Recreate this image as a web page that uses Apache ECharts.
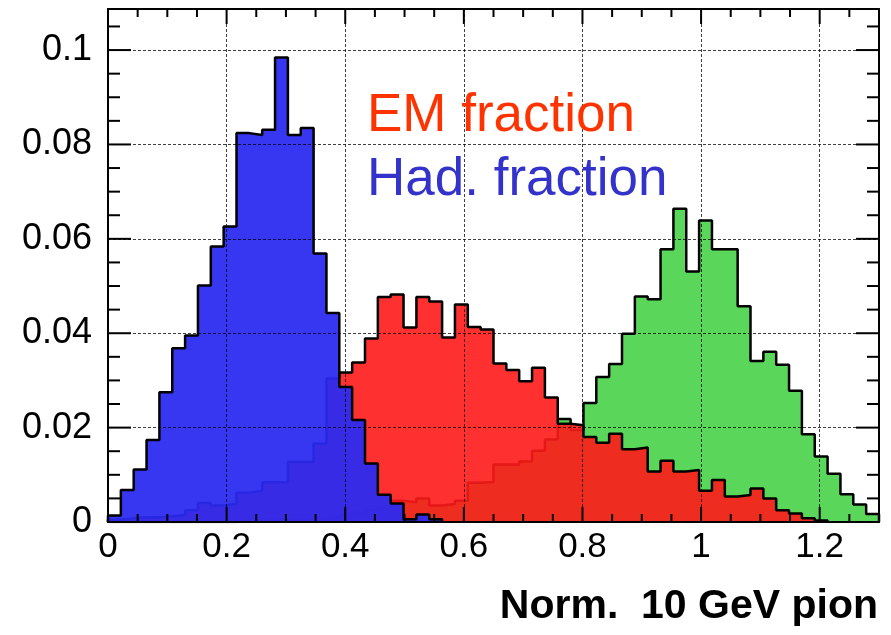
<!DOCTYPE html>
<html>
<head>
<meta charset="utf-8">
<script src="https://cdn.jsdelivr.net/npm/echarts@6/dist/echarts.min.js"></script>
<style>
  html, body { margin: 0; padding: 0; background: #fff; }
  #chart { width: 891px; height: 635px; }
</style>
</head>
<body>
<div id="chart"></div>
<script>
// ---- data: 60 bins from 0 to 1.3 ----
const X_MIN = 0;
const X_MAX = 1.3;
const xTickLabels = ['0', '0.2', '0.4', '0.6', '0.8', '1', '1.2'];
const yTickLabels = ['0', '0.02', '0.04', '0.06', '0.08', '0.1'];

// tick positions (axis values)
const xMajorTicks = [0, 0.2, 0.4, 0.6, 0.8, 1.0, 1.2];
const xMinorTicks = [0.05, 0.1, 0.15, 0.25, 0.3, 0.35, 0.45, 0.5, 0.55, 0.65, 0.7, 0.75,
                     0.85, 0.9, 0.95, 1.05, 1.1, 1.15, 1.25];
const yMajorTicks = [0, 0.02, 0.04, 0.06, 0.08, 0.1];
const yMinorTicks = [0.005, 0.01, 0.015, 0.025, 0.03, 0.035, 0.045, 0.05, 0.055, 0.065, 0.07,
                     0.075, 0.085, 0.09, 0.095, 0.105];

// Had. fraction (blue)
const hadFraction = [
  0.0014, 0.0068, 0.0111, 0.0174, 0.0275, 0.0368, 0.0395, 0.0501, 0.0584, 0.0626,
  0.0824, 0.0820, 0.0831, 0.0984, 0.0820, 0.0835, 0.0569, 0.0443, 0.0286, 0.0216,
  0.0124, 0.0058, 0.0039, 0.0006, 0.0016, 0.0006, 0, 0, 0, 0,
  0, 0, 0, 0, 0, 0, 0, 0, 0, 0,
  0, 0, 0, 0, 0, 0, 0, 0, 0, 0,
  0, 0, 0, 0, 0, 0, 0, 0, 0, 0
];

// EM fraction (red)
const emFraction = [
  0.0005, 0.0008, 0.0010, 0.0010, 0.0012, 0.0015, 0.0025, 0.0040, 0.0035, 0.0038,
  0.0062, 0.0066, 0.0084, 0.0084, 0.0127, 0.0127, 0.0166, 0.0304, 0.0317, 0.0338,
  0.0389, 0.0477, 0.0482, 0.0412, 0.0477, 0.0467, 0.0391, 0.0461, 0.0413, 0.0408,
  0.0336, 0.0322, 0.0298, 0.0327, 0.0264, 0.0208, 0.0205, 0.0180, 0.0168, 0.0187,
  0.0154, 0.0158, 0.0107, 0.0130, 0.0107, 0.0110, 0.0066, 0.0089, 0.0054, 0.0057,
  0.0071, 0.0050, 0.0025, 0.0018, 0.0008, 0.0003, 0, 0, 0, 0
];

// Normalised total, 10 GeV pion (green)
const totalNorm = [
  0, 0, 0, 0, 0, 0, 0, 0, 0, 0,
  0.0002, 0.0003, 0.0003, 0.0004, 0.0004, 0.0005, 0.0008, 0.0010, 0.0015, 0.0020,
  0.0025, 0.0030, 0.0045, 0.0042, 0.0050, 0.0035, 0.0038, 0.0045, 0.0083, 0.0085,
  0.0122, 0.0122, 0.0128, 0.0151, 0.0175, 0.0218, 0.0195, 0.0252, 0.0307, 0.0335,
  0.0399, 0.0478, 0.0472, 0.0578, 0.0664, 0.0531, 0.0639, 0.0578, 0.0578, 0.0457,
  0.0341, 0.0361, 0.0333, 0.0278, 0.0186, 0.0139, 0.0102, 0.0059, 0.0037, 0.0017
];

// ---- build step-histogram polylines from bin contents ----
function stepData(vals) {
  const n = vals.length;
  const w = (X_MAX - X_MIN) / n;
  let last = n - 1;
  while (last > 0 && vals[last] === 0) last--;
  const d = [[X_MIN, 0]];
  for (let i = 0; i <= last; i++) d.push([X_MIN + i * w, vals[i]]);
  d.push([X_MIN + (last + 1) * w, vals[last]]);
  d.push([X_MIN + (last + 1) * w, 0]);
  return d;
}

const FONT = '"Liberation Sans", Arial, Helvetica, sans-serif';
const Y_MAX = 0.1087;
const black = '#000';

function histSeries(name, vals, color, opacity, z) {
  return {
    name: name, type: 'line', step: 'end', xAxisIndex: 0, yAxisIndex: 0,
    data: stepData(vals), showSymbol: false, symbol: 'none', z: z,
    lineStyle: { color: black, width: 2.5 },
    areaStyle: { color: color, opacity: opacity, origin: 'start' },
    emphasis: { disabled: true }, clip: true, silent: true
  };
}

// tick items: [orientation (0 = x, 1 = y), axis value, major flag]
const tickItems = []
  .concat(xMajorTicks.map(v => [0, v, 1]))
  .concat(xMinorTicks.map(v => [0, v, 0]))
  .concat(yMajorTicks.map(v => [1, v, 1]))
  .concat(yMinorTicks.map(v => [1, v, 0]));

const TICK_LEN = { xMajor: 15, xMinor: 8, yMajor: 23, yMinor: 12 };

function renderTick(params, api) {
  const cs = params.coordSys;
  const isY = api.value(0) === 1;
  const v = api.value(1);
  const major = api.value(2) === 1;
  const style = { stroke: black, lineWidth: 2 };
  if (!isY) {
    const px = api.coord([v, 0])[0];
    const len = major ? TICK_LEN.xMajor : TICK_LEN.xMinor;
    const yb = cs.y + cs.height, yt = cs.y;
    return { type: 'group', children: [
      { type: 'line', shape: { x1: px, y1: yb, x2: px, y2: yb - len }, style: style },
      { type: 'line', shape: { x1: px, y1: yt, x2: px, y2: yt + len }, style: style }
    ] };
  }
  const py = api.coord([0, v])[1];
  const len = major ? TICK_LEN.yMajor : TICK_LEN.yMinor;
  const xl = cs.x, xr = cs.x + cs.width;
  return { type: 'group', children: [
    { type: 'line', shape: { x1: xl, y1: py, x2: xl + len, y2: py }, style: style },
    { type: 'line', shape: { x1: xr, y1: py, x2: xr - len, y2: py }, style: style }
  ] };
}

const chart = echarts.init(document.getElementById('chart'), null, { renderer: 'canvas' });

const option = {
  animation: false,
  backgroundColor: '#fff',
  grid: { left: 108, top: 9, right: 12, bottom: 113, containLabel: false, outerBoundsMode: 'none' },
  xAxis: [
    { type: 'value', position: 'bottom', min: X_MIN, max: X_MAX, interval: 0.2, z: 10,
      axisLine: { show: true, onZero: false, lineStyle: { color: black, width: 2 } },
      axisTick: { show: false },
      splitLine: { show: true, lineStyle: { color: black, width: 1, type: [3, 2], opacity: 0.75 } },
      axisLabel: { show: true, margin: 8, fontSize: 35, color: black, fontFamily: FONT, showMaxLabel: false,
        formatter: function (v) {
          const idx = Math.round(v / 0.2);
          return (Math.abs(v - idx * 0.2) < 1e-6 && xTickLabels[idx] !== undefined) ? xTickLabels[idx] : '';
        } } },
    { type: 'value', position: 'top', min: X_MIN, max: X_MAX, interval: 0.2, z: 10,
      axisLine: { show: true, onZero: false, lineStyle: { color: black, width: 2 } },
      axisTick: { show: false }, splitLine: { show: false }, axisLabel: { show: false } }
  ],
  yAxis: [
    { type: 'value', position: 'left', min: 0, max: Y_MAX, interval: 0.02, z: 10,
      axisLine: { show: true, onZero: false, lineStyle: { color: black, width: 2 } },
      axisTick: { show: false },
      splitLine: { show: true, lineStyle: { color: black, width: 1, type: [3, 2], opacity: 0.75 } },
      axisLabel: { show: true, margin: 16, fontSize: 36, color: black, fontFamily: FONT, showMaxLabel: false,
        formatter: function (v) {
          const idx = Math.round(v / 0.02);
          return (Math.abs(v - idx * 0.02) < 1e-7 && yTickLabels[idx] !== undefined) ? yTickLabels[idx] : '';
        } } },
    { type: 'value', position: 'right', min: 0, max: Y_MAX, interval: 0.02, z: 10,
      axisLine: { show: true, onZero: false, lineStyle: { color: black, width: 2 } },
      axisTick: { show: false }, splitLine: { show: false }, axisLabel: { show: false } }
  ],
  series: [
    histSeries('Norm. 10 GeV pion', totalNorm, '#5ad65a', 1, 2),
    histSeries('EM fraction', emFraction, '#ff1a1a', 0.9, 3),
    histSeries('Had. fraction', hadFraction, '#2a2af0', 0.94, 4),
    {
      name: 'ticks', type: 'custom', coordinateSystem: 'cartesian2d',
      xAxisIndex: 0, yAxisIndex: 0, z: 20, silent: true, clip: false,
      data: tickItems, renderItem: renderTick
    }
  ],
  graphic: [
    { type: 'text', z: 100, style: { x: 367, y: 116, text: 'EM fraction', fill: '#ff3300', font: '53px ' + FONT, align: 'left', verticalAlign: 'middle' } },
    { type: 'text', z: 100, style: { x: 367, y: 180, text: 'Had. fraction', fill: '#3333cc', font: '53px ' + FONT, align: 'left', verticalAlign: 'middle' } },
    { type: 'text', z: 100, style: { x: 878, y: 607, text: 'Norm.  10 GeV pion', fill: '#000', font: 'bold 41px ' + FONT, align: 'right', verticalAlign: 'middle' } }
  ]
};

chart.setOption(option);
</script>
</body>
</html>
